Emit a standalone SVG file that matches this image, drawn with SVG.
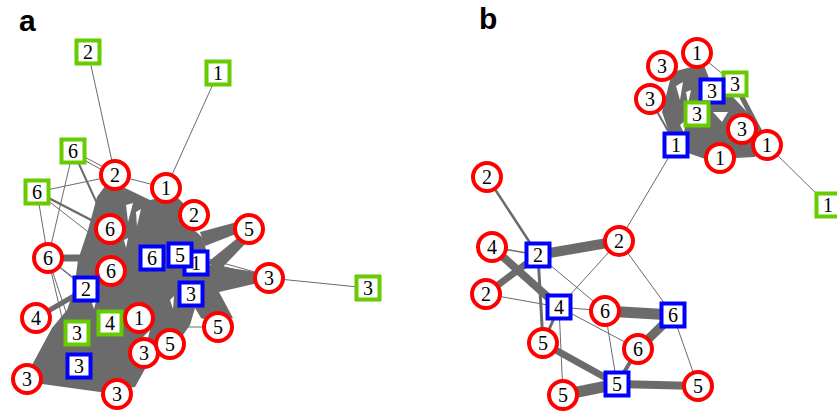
<svg xmlns="http://www.w3.org/2000/svg" width="837" height="415" viewBox="0 0 837 415">
<style>
.e{stroke:#6b6b6b;fill:none;stroke-linecap:butt}
.m{fill:#6b6b6b;stroke:none}
.w{fill:#fff;stroke:none}
.r{fill:#fff;stroke:#ff0000;stroke-width:4}
.g{fill:#fff;stroke:#66cc00;stroke-width:4}
.b{fill:#fff;stroke:#0000ff;stroke-width:4}
text{font-family:"Liberation Serif","Times New Roman",serif;font-size:20px;text-anchor:middle;fill:#000}
.lab{font-family:"Liberation Sans",Arial,sans-serif;font-weight:bold;font-size:30px;text-anchor:start}
</style>
<rect width="837" height="415" fill="#fff"/>
<text class="lab" x="19" y="31">a</text>
<text class="lab" x="479" y="29">b</text>
<g id="connectors">
<!-- panel a -->
<polygon class="m" points="108,182 125,188 150,200 160,198 175,195 185,205 192,228 203,238 210,265 256,272 258,283 219,292 233,318 212,322 201,318 195,308 190,325 183,335 160,345 150,360 135,387 100,392 42,384 32,365 52,328 67,310 74,290 78,260 88,230 97,197"/>
<polygon class="m" points="200,232 237,222 241,232 205,246"/>
<polygon class="m" points="208,262 240,236 246,243 218,272"/>
<polygon class="w" points="126,205 133,203 128,222"/>
<polygon class="w" points="136,212 141,209 137,226"/>
<polygon class="w" points="124,240 128,238 126,248"/>
<polygon class="w" points="92,303 96,301 94,309"/>
<polygon class="w" points="170,300 174,296 173,309"/>
<polygon class="w" points="140,340 150,330 145,350"/>
<line class="e" x1="88" y1="52" x2="115" y2="175" stroke-width="1"/>
<line class="e" x1="218" y1="73" x2="166" y2="188" stroke-width="1"/>
<line class="e" x1="115" y1="175" x2="166" y2="188" stroke-width="1"/>
<line class="e" x1="73" y1="151" x2="113" y2="172" stroke-width="1"/>
<line class="e" x1="73" y1="154" x2="113" y2="176" stroke-width="1"/>
<line class="e" x1="73" y1="151" x2="48" y2="258" stroke-width="1"/>
<line class="e" x1="73" y1="151" x2="100" y2="210" stroke-width="2"/>
<line class="e" x1="37" y1="192" x2="113" y2="176" stroke-width="1"/>
<line class="e" x1="37" y1="192" x2="95" y2="222" stroke-width="2.5"/>
<line class="e" x1="37" y1="192" x2="96" y2="238" stroke-width="1"/>
<line class="e" x1="37" y1="192" x2="48" y2="258" stroke-width="1"/>
<line class="e" x1="48" y1="258" x2="82" y2="258" stroke-width="7"/>
<line class="e" x1="48" y1="258" x2="86" y2="289" stroke-width="1"/>
<line class="e" x1="48" y1="258" x2="82" y2="284" stroke-width="1"/>
<line class="e" x1="48" y1="258" x2="72" y2="330" stroke-width="1"/>
<line class="e" x1="48" y1="258" x2="66" y2="335" stroke-width="1"/>
<line class="e" x1="36" y1="318" x2="86" y2="289" stroke-width="5"/>
<line class="e" x1="269" y1="278" x2="368" y2="288" stroke-width="1"/>
<line class="e" x1="269" y1="278" x2="205" y2="262" stroke-width="1"/>
<line class="e" x1="269" y1="276" x2="205" y2="258" stroke-width="1"/>
<line class="e" x1="269" y1="280" x2="205" y2="266" stroke-width="1"/>
<line class="e" x1="218" y1="327" x2="188" y2="327" stroke-width="1"/>
<!-- panel b -->
<polygon class="m" points="672,72 703,64 708,80 725,95 733,97 748,113 760,132 755,157 735,158 708,160 688,153 670,135 662,112"/>
<polygon class="w" points="676,86 683,82 680,100"/>
<polygon class="w" points="686,92 691,90 688,104"/>
<polygon class="w" points="713,112 728,112 722,122"/>
<polygon class="w" points="680,125 686,120 684,133"/>
<line class="e" x1="697" y1="53" x2="735" y2="84" stroke-width="1"/>
<line class="e" x1="697" y1="53" x2="712" y2="91" stroke-width="4"/>
<line class="e" x1="650" y1="99" x2="676" y2="145" stroke-width="2"/>
<line class="e" x1="735" y1="84" x2="767" y2="145" stroke-width="5"/>
<line class="e" x1="619" y1="241" x2="676" y2="145" stroke-width="1"/>
<line class="e" x1="767" y1="145" x2="828" y2="205" stroke-width="1"/>
<line class="e" x1="487" y1="177" x2="538" y2="255" stroke-width="2.5"/>
<line class="e" x1="492" y1="247" x2="538" y2="255" stroke-width="1.5"/>
<line class="e" x1="492" y1="247" x2="559" y2="307" stroke-width="8"/>
<line class="e" x1="486" y1="294" x2="538" y2="255" stroke-width="7"/>
<line class="e" x1="538" y1="255" x2="619" y2="241" stroke-width="10"/>
<line class="e" x1="538" y1="255" x2="543" y2="343" stroke-width="3"/>
<line class="e" x1="538" y1="255" x2="605" y2="311" stroke-width="1"/>
<line class="e" x1="486" y1="294" x2="559" y2="307" stroke-width="1"/>
<line class="e" x1="619" y1="241" x2="559" y2="307" stroke-width="1"/>
<line class="e" x1="619" y1="241" x2="673" y2="315" stroke-width="1"/>
<line class="e" x1="559" y1="307" x2="605" y2="311" stroke-width="1"/>
<line class="e" x1="559" y1="307" x2="638" y2="349" stroke-width="1"/>
<line class="e" x1="559" y1="307" x2="543" y2="343" stroke-width="3"/>
<line class="e" x1="559" y1="307" x2="563" y2="395" stroke-width="1"/>
<line class="e" x1="605" y1="311" x2="673" y2="315" stroke-width="11"/>
<line class="e" x1="605" y1="311" x2="617" y2="384" stroke-width="1"/>
<line class="e" x1="673" y1="315" x2="638" y2="349" stroke-width="9"/>
<line class="e" x1="673" y1="315" x2="698" y2="386" stroke-width="1"/>
<line class="e" x1="638" y1="349" x2="617" y2="384" stroke-width="4"/>
<line class="e" x1="543" y1="343" x2="617" y2="384" stroke-width="7"/>
<line class="e" x1="563" y1="395" x2="617" y2="384" stroke-width="11"/>
<line class="e" x1="617" y1="384" x2="698" y2="386" stroke-width="8"/>
</g>
<!-- panel a nodes -->
<g id="a_g2"><rect class="g" x="76.5" y="40.5" width="23" height="23"/><text x="88" y="59">2</text></g>
<g id="a_g1"><rect class="g" x="206.5" y="61.5" width="23" height="23"/><text x="218" y="80">1</text></g>
<g id="a_g6a"><rect class="g" x="61.5" y="139.5" width="23" height="23"/><text x="73" y="158">6</text></g>
<g id="a_g6b"><rect class="g" x="25.5" y="180.5" width="23" height="23"/><text x="37" y="199">6</text></g>
<g id="a_r2a"><circle class="r" cx="115" cy="175" r="14"/><text x="115" y="182">2</text></g>
<g id="a_r1a"><circle class="r" cx="166" cy="188" r="14"/><text x="166" y="195">1</text></g>
<g id="a_r2b"><circle class="r" cx="194" cy="215" r="14"/><text x="194" y="222">2</text></g>
<g id="a_r5a"><circle class="r" cx="249" cy="229" r="14"/><text x="249" y="236">5</text></g>
<g id="a_r3a"><circle class="r" cx="269" cy="278" r="14"/><text x="269" y="285">3</text></g>
<g id="a_g3r"><rect class="g" x="356.5" y="276.5" width="23" height="23"/><text x="368" y="295">3</text></g>
<g id="a_r6a"><circle class="r" cx="110" cy="229" r="14"/><text x="110" y="236">6</text></g>
<g id="a_r6b"><circle class="r" cx="111" cy="271" r="14"/><text x="111" y="278">6</text></g>
<g id="a_r6c"><circle class="r" cx="48" cy="258" r="14"/><text x="48" y="265">6</text></g>
<g id="a_b6"><rect class="b" x="140.5" y="246.5" width="23" height="23"/><text x="152" y="265">6</text></g>
<g id="a_b1"><rect class="b" x="184.5" y="251.5" width="23" height="23"/><text x="196" y="270">1</text></g>
<g id="a_b5"><rect class="b" x="168.5" y="243.5" width="23" height="23"/><text x="180" y="262">5</text></g>
<g id="a_b3"><rect class="b" x="179.5" y="282.5" width="23" height="23"/><text x="191" y="301">3</text></g>
<g id="a_r5b"><circle class="r" cx="218" cy="327" r="14"/><text x="218" y="334">5</text></g>
<g id="a_b2"><rect class="b" x="74.5" y="277.5" width="23" height="23"/><text x="86" y="296">2</text></g>
<g id="a_r4"><circle class="r" cx="36" cy="318" r="14"/><text x="36" y="325">4</text></g>
<g id="a_g4"><rect class="g" x="98.5" y="311.5" width="23" height="23"/><text x="110" y="330">4</text></g>
<g id="a_r1b"><circle class="r" cx="139" cy="318" r="14"/><text x="139" y="325">1</text></g>
<g id="a_g3"><rect class="g" x="65.5" y="321.5" width="23" height="23"/><text x="77" y="340">3</text></g>
<g id="a_b3b"><rect class="b" x="67.5" y="354.5" width="23" height="23"/><text x="79" y="373">3</text></g>
<g id="a_r3d"><circle class="r" cx="144" cy="353" r="14"/><text x="144" y="360">3</text></g>
<g id="a_r5c"><circle class="r" cx="170" cy="344" r="14"/><text x="170" y="351">5</text></g>
<g id="a_r3b"><circle class="r" cx="27" cy="379" r="14"/><text x="27" y="386">3</text></g>
<g id="a_r3c"><circle class="r" cx="117" cy="394" r="14"/><text x="117" y="401">3</text></g>
<!-- panel b nodes -->
<g id="b_r1t"><circle class="r" cx="697" cy="53" r="14"/><text x="697" y="60">1</text></g>
<g id="b_r3a"><circle class="r" cx="662" cy="66" r="14"/><text x="662" y="73">3</text></g>
<g id="b_r3b"><circle class="r" cx="650" cy="99" r="14"/><text x="650" y="106">3</text></g>
<g id="b_g3r"><rect class="g" x="723.5" y="72.5" width="23" height="23"/><text x="735" y="91">3</text></g>
<g id="b_b3"><rect class="b" x="700.5" y="79.5" width="23" height="23"/><text x="712" y="98">3</text></g>
<g id="b_g3m"><rect class="g" x="685.5" y="102.5" width="23" height="23"/><text x="697" y="121">3</text></g>
<g id="b_r3r"><circle class="r" cx="742" cy="129" r="14"/><text x="742" y="136">3</text></g>
<g id="b_r1r"><circle class="r" cx="767" cy="145" r="14"/><text x="767" y="152">1</text></g>
<g id="b_r1b"><circle class="r" cx="720" cy="158" r="14"/><text x="720" y="165">1</text></g>
<g id="b_b1"><rect class="b" x="664.5" y="133.5" width="23" height="23"/><text x="676" y="152">1</text></g>
<g id="b_g1"><rect class="g" x="816.5" y="193.5" width="23" height="23"/><text x="828" y="212">1</text></g>
<g id="b_r2t"><circle class="r" cx="487" cy="177" r="14"/><text x="487" y="184">2</text></g>
<g id="b_r4"><circle class="r" cx="492" cy="247" r="14"/><text x="492" y="254">4</text></g>
<g id="b_b2"><rect class="b" x="526.5" y="243.5" width="23" height="23"/><text x="538" y="262">2</text></g>
<g id="b_r2"><circle class="r" cx="619" cy="241" r="14"/><text x="619" y="248">2</text></g>
<g id="b_r2l"><circle class="r" cx="486" cy="294" r="14"/><text x="486" y="301">2</text></g>
<g id="b_b4"><rect class="b" x="547.5" y="295.5" width="23" height="23"/><text x="559" y="314">4</text></g>
<g id="b_r6"><circle class="r" cx="605" cy="311" r="14"/><text x="605" y="318">6</text></g>
<g id="b_b6"><rect class="b" x="661.5" y="303.5" width="23" height="23"/><text x="673" y="322">6</text></g>
<g id="b_r6l"><circle class="r" cx="638" cy="349" r="14"/><text x="638" y="356">6</text></g>
<g id="b_r5l"><circle class="r" cx="543" cy="343" r="14"/><text x="543" y="350">5</text></g>
<g id="b_b5"><rect class="b" x="605.5" y="372.5" width="23" height="23"/><text x="617" y="391">5</text></g>
<g id="b_r5b"><circle class="r" cx="563" cy="395" r="14"/><text x="563" y="402">5</text></g>
<g id="b_r5r"><circle class="r" cx="698" cy="386" r="14"/><text x="698" y="393">5</text></g>
</svg>
